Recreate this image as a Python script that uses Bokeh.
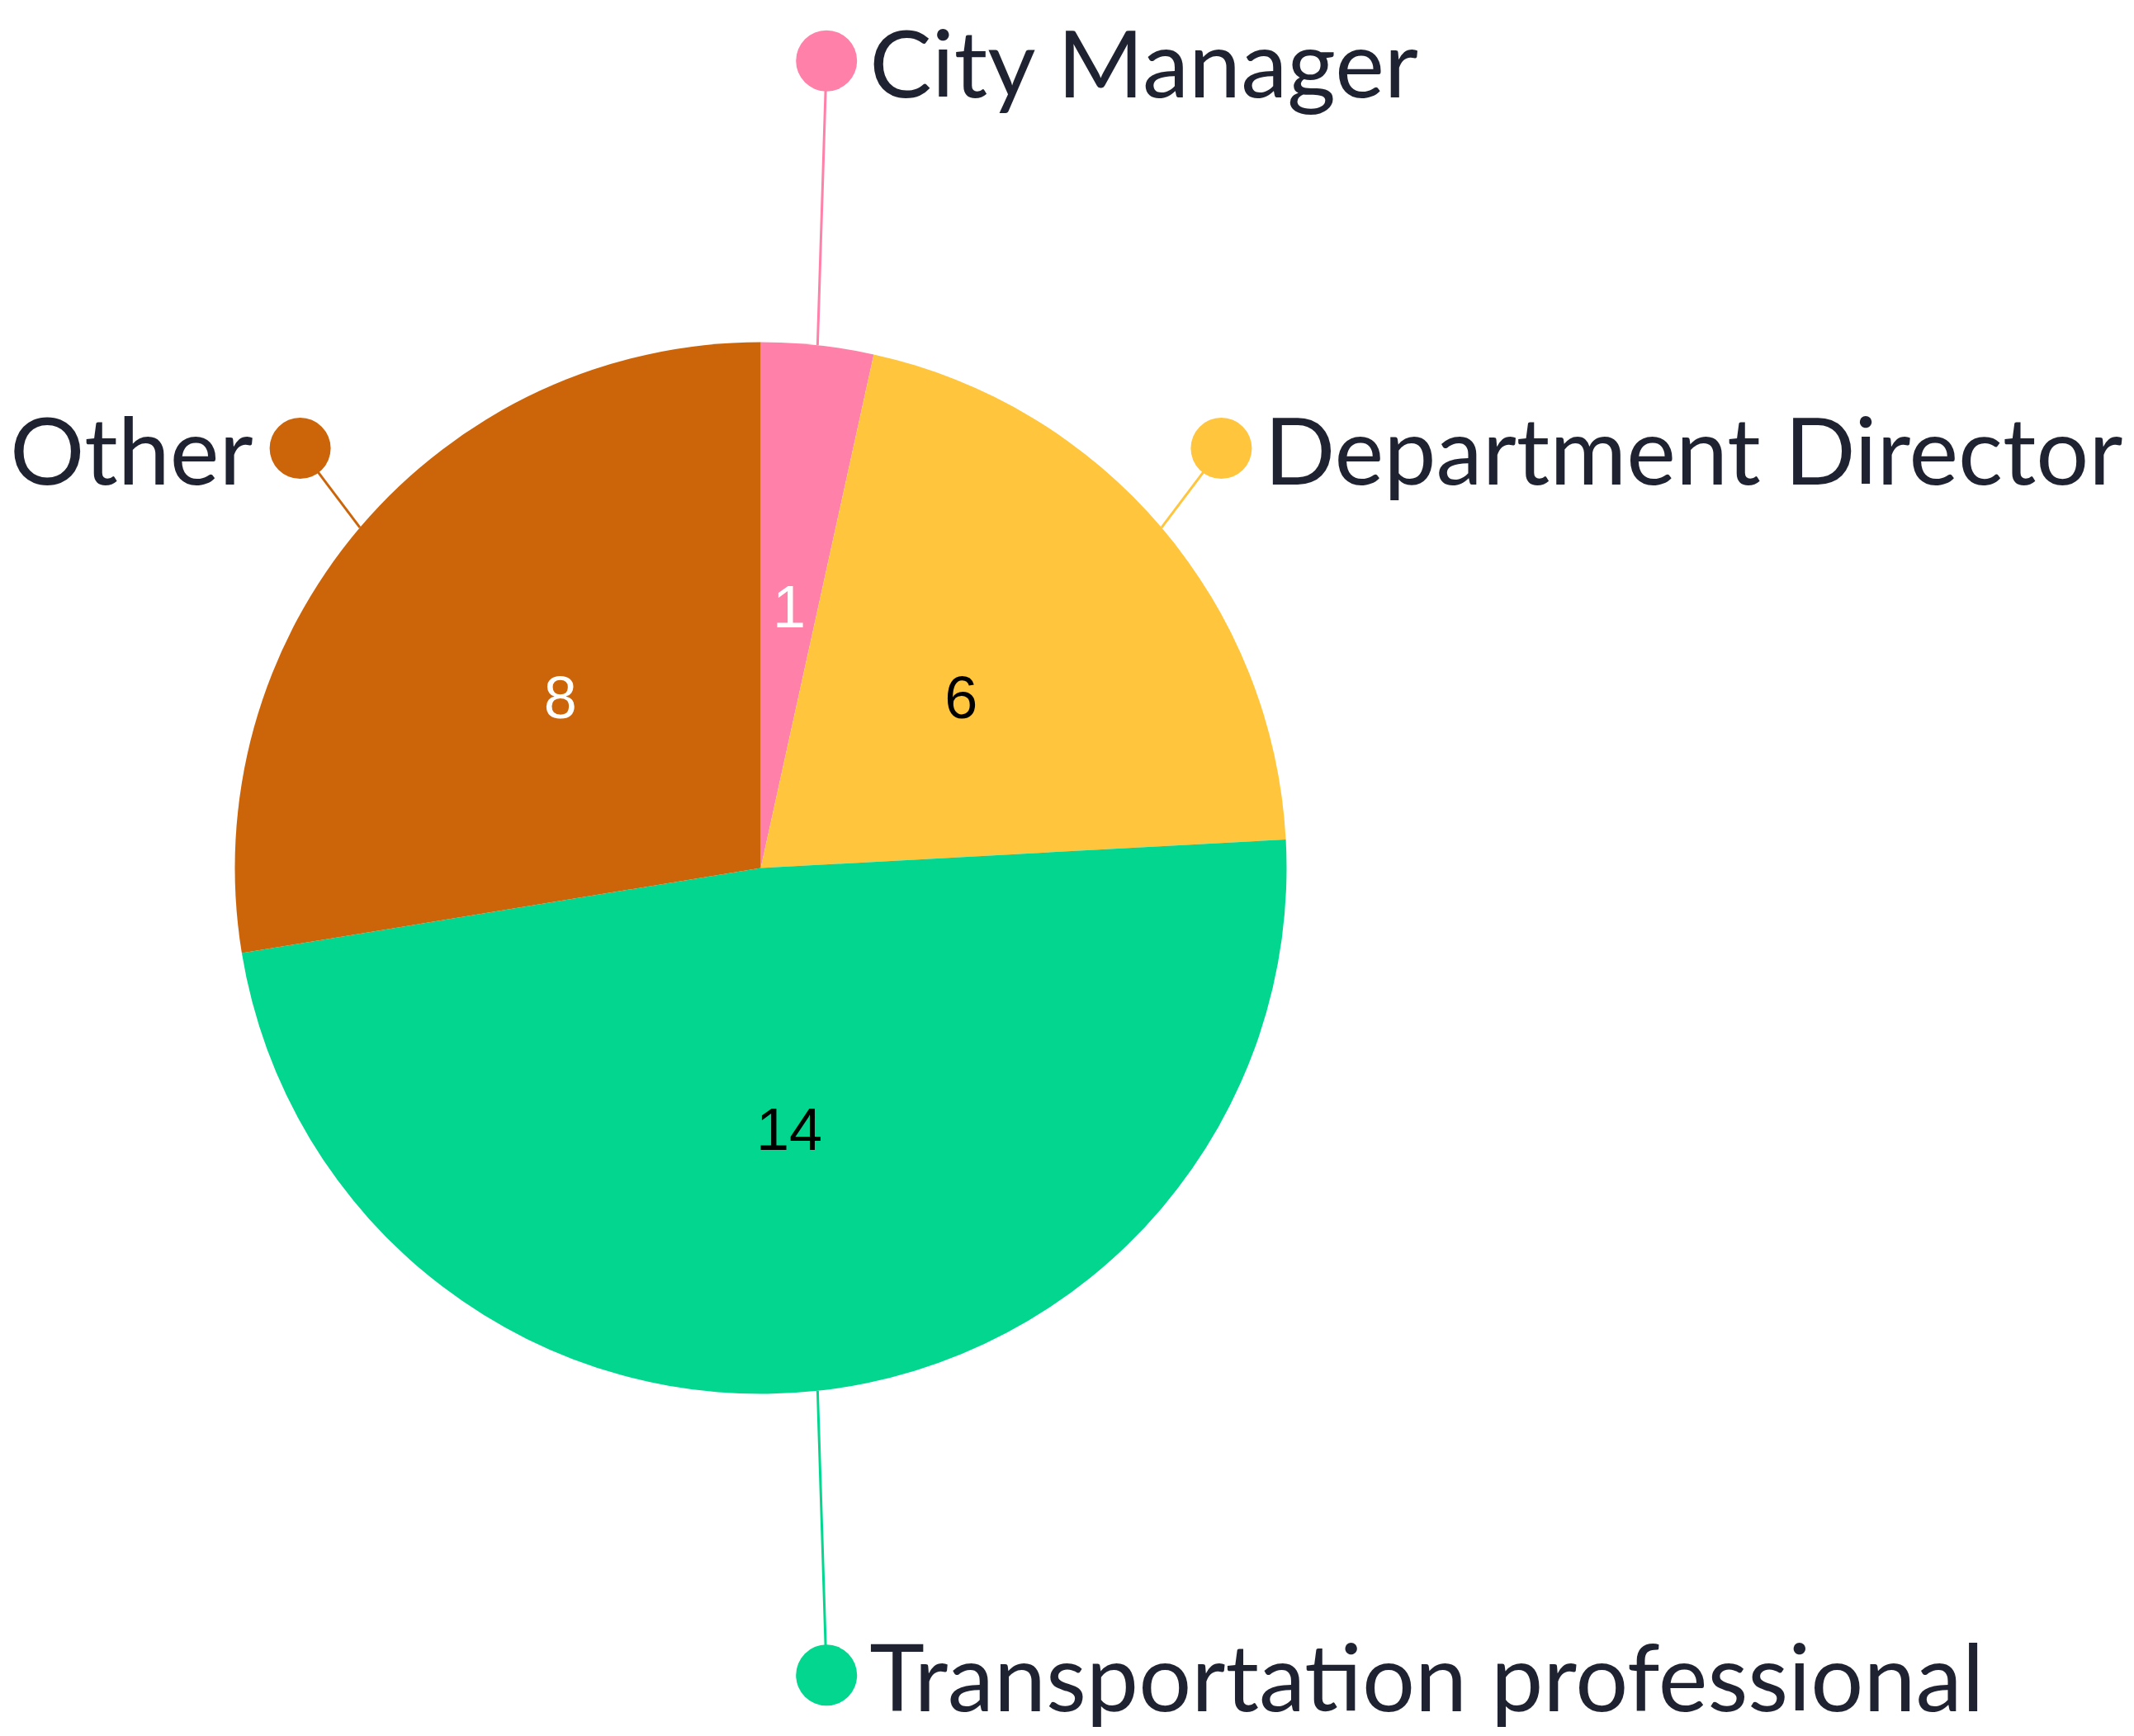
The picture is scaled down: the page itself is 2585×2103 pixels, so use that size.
import math
from bokeh.plotting import figure
from bokeh.models import Range1d, ColumnDataSource
from bokeh.core.properties import value
from bokeh.embed import file_html
from bokeh.resources import INLINE

# ---- data ----
categories = ["City Manager", "Department Director", "Transportation professional", "Other"]
counts = [1, 6, 14, 8]
slice_colors = ["#FF80A9", "#FFC53D", "#02D68F", "#CC650A"]
value_text_colors = ["#FFFFFF", "#000000", "#000000", "#FFFFFF"]

# ---- layout ----
W, H = 2585, 2103
CX = 921
CY = H - 1051
R = 637
LABEL_COLOR = "#1F2331"
NUDGE = math.radians(2.0)

total = float(sum(counts))
starts, ends, mids = [], [], []
acc = 0.0
for c in counts:
    t0 = acc / total * 2 * math.pi
    acc += c
    t1 = acc / total * 2 * math.pi
    starts.append(t0)
    ends.append(t1)
    mids.append((t0 + t1) / 2)

# convert clockwise-from-top to bokeh standard angles
std_start = [math.pi / 2 - t1 for t1 in ends]
std_end = [math.pi / 2 - t0 for t0 in starts]

p = figure(width=W, height=H, x_range=Range1d(0, W), y_range=Range1d(0, H),
           output_backend="svg", toolbar_location=None, min_border=0)
p.outline_line_color = None
p.axis.visible = False
p.grid.visible = False
p.background_fill_color = "white"
p.border_fill_color = "white"

src = ColumnDataSource(dict(start=std_start, end=std_end, color=slice_colors))
p.wedge(x=CX, y=CY, radius=R, start_angle="start", end_angle="end",
        fill_color="color", line_color=None, source=src)

# value labels
vx = [CX + 0.5 * R * math.sin(m) for m in mids]
vy = [CY + 0.5 * R * math.cos(m) for m in mids]
p.text(x=vx, y=vy, text=[str(c) for c in counts], text_color=value_text_colors,
       text_font=value("Liberation Sans"), text_font_size="72px",
       text_align="center", text_baseline="middle")

# outer labels with leader lines and dots
ex, ey, dx, dy = [], [], [], []
for m in mids:
    ux, uy = math.sin(m), math.cos(m)
    ex.append(CX + R * ux)
    ey.append(CY + R * uy)
    if abs(uy) > 0.95:
        dx.append(CX + R * ux + 0.017 * R)
        dy.append(CY + math.copysign(1.535 * R, uy))
    else:
        # nudge anchor a little toward the vertical axis
        a = m - NUDGE if ux * uy > 0 else m + NUDGE
        dx.append(CX + 1.185 * R * math.sin(a))
        dy.append(CY + 1.185 * R * math.cos(a))

p.segment(x0=ex, y0=ey, x1=dx, y1=dy, line_color=slice_colors, line_width=3)
p.circle(x=dx, y=dy, radius=37, fill_color=slice_colors, line_color=None)

for i, name in enumerate(categories):
    ux = math.sin(mids[i])
    uy = math.cos(mids[i])
    if ux >= 0 or abs(uy) > 0.95:
        tx, align = dx[i] + 52, "left"
    else:
        tx, align = dx[i] - 57, "right"
    p.text(x=[tx], y=[dy[i]], text=[name], text_color=LABEL_COLOR,
           text_font=value("Lato"), text_font_size="113px",
           text_align=align, text_baseline="middle")

open("out.html", "w").write(file_html(p, INLINE))
